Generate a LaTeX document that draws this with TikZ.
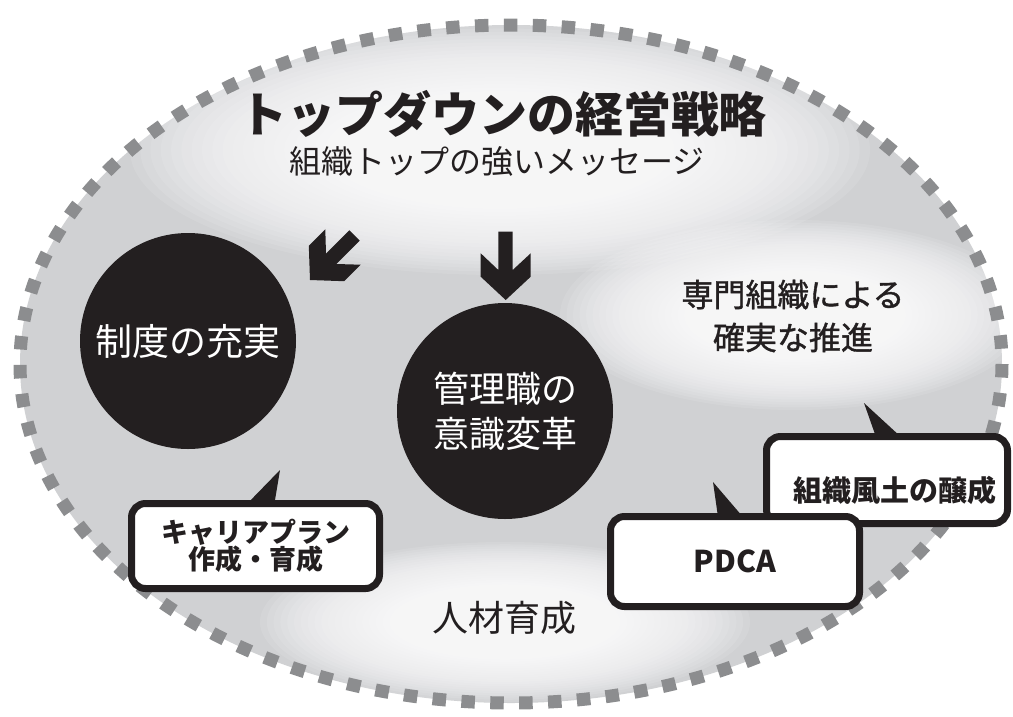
\documentclass[tikz,border=0pt]{standalone}
\usepackage{fontspec}
\setmainfont{Noto Sans CJK JP}
\newfontfamily\jpmed[FakeBold=1.2]{Noto Sans CJK JP}
\definecolor{bgc}{RGB}{208,209,211}
\definecolor{ink}{RGB}{35,31,32}
\definecolor{dashc}{RGB}{140,141,143}
\tikzset{
  blackcirc/.style={circle, fill=ink, minimum size=216pt, inner sep=0pt, text=white, align=center},
  bubble/.style={draw=ink, fill=white, line width=7pt, rounded corners=14pt, inner sep=0pt, align=center, text=ink},
  tail/.style={fill=ink},
  bigarrow/.style={fill=ink},
  dashring/.style={draw=dashc, line width=13pt, dash pattern=on 13.5pt off 15.4pt},
  plain/.style={text=ink, inner sep=0pt, align=center},
  glowring/.style={fill=white, fill opacity=0.1}
}
\newcommand{\myglow}[4]{%
  \foreach \k in {0,...,29}{%
    \pgfmathsetmacro{\ff}{1-\k/36}%
    \fill[glowring] (#1,#2) ellipse [x radius={#3*\ff}, y radius={#4*\ff}];%
  }%
}
\begin{document}
\begin{tikzpicture}[x=1pt,y=-1pt]
\useasboundingbox (0,0) rectangle (1013,716);
% background ellipse with glows
\fill[bgc] (511,364) ellipse [x radius=491, y radius=339];
\begin{scope}
  \clip (511,364) ellipse [x radius=491, y radius=339];
  \myglow{500}{150}{370}{125}
  \myglow{795}{315}{235}{95}
  \myglow{505}{622}{245}{80}
\end{scope}
\draw[dashring] (511,364) ellipse [x radius=491, y radius=339];

% titles
\node[plain, font=\fontsize{48}{48}\selectfont\bfseries] (title) at (503,114) {トップダウンの経営戦略};
\node[plain, font=\fontsize{32}{32}\selectfont] (subtitle) at (497,161) {組織トップの強いメッセージ};

% arrows
\fill[bigarrow] (498.3,231.7) -- (512.7,231.7) -- (512.7,270) -- (530.7,253.3) -- (530.7,276.7)
  -- (505.7,300) -- (480.7,276.7) -- (480.7,253.3) -- (498.3,270) -- cycle;
\fill[bigarrow] (349.4,230.3) -- (359.7,240.6) -- (336.4,264) -- (360.7,264.7) -- (344.2,281.2)
  -- (310,280) -- (308.8,245.8) -- (325.3,229.3) -- (326,253.6) -- cycle;

% circles
\node[blackcirc, font=\fontsize{37}{40}\selectfont] (c1) at (188,341) {制度の充実};
\node[blackcirc, font=\fontsize{36}{45}\selectfont] (c2) at (505,411) {管理職の\\意識変革};

% other texts
\node[plain, font=\fontsize{32}{43}\selectfont\jpmed] (spec) at (793,316) {専門組織による\\確実な推進};
\node[plain, font=\fontsize{36}{36}\selectfont] (jinzai) at (504,618) {人材育成};

% bubble 1
\coordinate (t1) at (280,470);
\fill[tail] (245,506) -- (t1) -- (274,506) -- cycle;
\node[bubble, minimum width=248pt, minimum height=85pt, font=\fontsize{27}{27}\selectfont\bfseries] (b1) at (255.5,546) {キャリアプラン\\作成・育成};

% bubble 2
\coordinate (t2) at (864,403);
\fill[tail] (876,437) -- (t2) -- (901,437) -- cycle;
\node[bubble, minimum width=241pt, minimum height=87pt] (b2) at (887,480) {};
\node[plain, font=\fontsize{29}{29}\selectfont\bfseries] (b2t) at (895,490) {組織風土の醸成};

% bubble 3
\coordinate (t3) at (713,482);
\fill[tail] (718,517) -- (t3) -- (743,517) -- cycle;
\node[bubble, minimum width=249pt, minimum height=90pt, font=\fontsize{30}{30}\selectfont\bfseries] (b3) at (735,561.5) {PDCA};
\end{tikzpicture}
\end{document}
